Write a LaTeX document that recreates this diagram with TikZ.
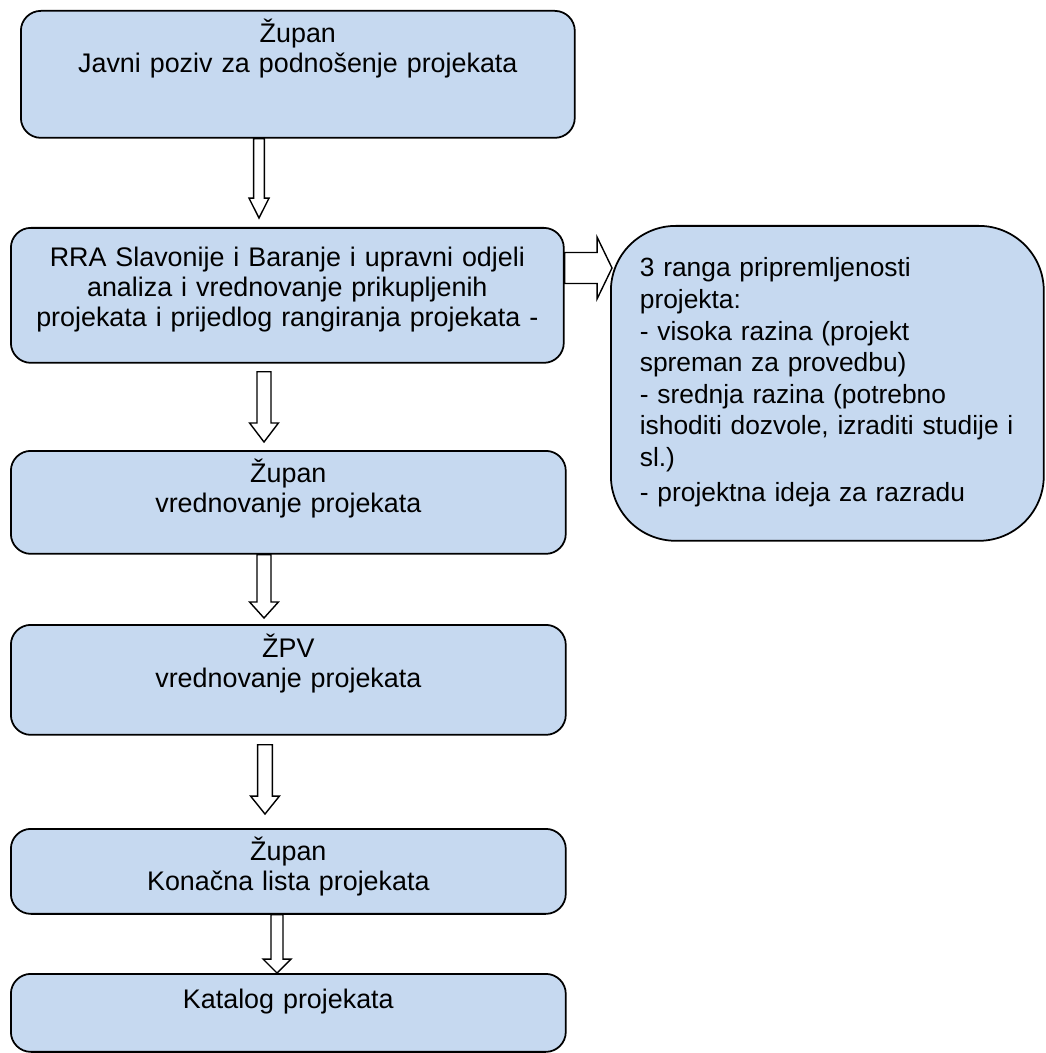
\documentclass[tikz,border=0pt]{standalone}
\usepackage{fontspec}
\setmainfont{Liberation Sans}
\usepackage{xcolor}
\usepackage{tikz}
\usetikzlibrary{calc}

\definecolor{boxfill}{RGB}{198,217,240}

% hollow block arrows: from, to, shaft, head, head length (pt)
\newcommand{\blkdown}[5]{%
  \draw[blk] let \p1=(#1), \p2=(#2) in
    (\x1-#3pt,\y1) -- (\x1-#3pt,\y2+#5pt) -- (\x1-#4pt,\y2+#5pt) -- (\x1,\y2)
    -- (\x1+#4pt,\y2+#5pt) -- (\x1+#3pt,\y2+#5pt) -- (\x1+#3pt,\y1) -- cycle;}
\newcommand{\blkright}[5]{%
  \draw[blk] let \p1=(#1), \p2=(#2) in
    (\x1,\y1+#3pt) -- (\x2-#5pt,\y1+#3pt) -- (\x2-#5pt,\y1+#4pt) -- (\x2,\y1)
    -- (\x2-#5pt,\y1-#4pt) -- (\x2-#5pt,\y1-#3pt) -- (\x1,\y1-#3pt) -- cycle;}

\begin{document}
\begin{tikzpicture}[
  x=0.02cm,y=-0.02cm,
  font=\fontsize{15.3pt}{17pt}\selectfont,
  box/.style={draw,line width=1pt,fill=boxfill,rounded corners=0.4cm,
    anchor=north west,inner sep=0pt,align=center},
  blk/.style={draw,fill=white,line width=0.8pt}
]
\useasboundingbox (0,0) rectangle (1045,1053);

\node[box,text width=11.08cm,text height=0.64cm,text depth=1.90cm] (b1) at (20,10)
  {Župan\\Javni poziv za podnošenje projekata};
\node[box,text width=11.06cm,text height=0.78cm,text depth=1.92cm] (b2) at (10,227)
  {RRA Slavonije i Baranje i upravni odjeli\\analiza i vrednovanje prikupljenih\\projekata i prijedlog rangiranja projekata -};
\node[box,text width=11.10cm,text height=0.64cm,text depth=1.42cm] (b3) at (10,450)
  {Župan\\vrednovanje projekata};
\node[box,text width=11.10cm,text height=0.66cm,text depth=1.54cm] (b4) at (10,624)
  {ŽPV\\vrednovanje projekata};
\node[box,text width=11.10cm,text height=0.64cm,text depth=1.06cm] (b5) at (10,828)
  {Župan\\Konačna lista projekata};
\node[box,text width=11.10cm,text height=0.70cm,text depth=0.86cm] (b6) at (10,973)
  {Katalog projekata};
\node[box,rounded corners=1.3cm,align=left,text width=7.5cm,minimum width=8.66cm,
  text height=1.02cm,text depth=5.28cm,font=\fontsize{15pt}{18pt}\selectfont] (side) at (610,225)
  {3 ranga pripremljenosti\\projekta:\\- visoka razina (projekt\\spreman za provedbu)\\- srednja razina (potrebno\\ishoditi dozvole, izraditi studije i\\sl.)\\[2pt]- projektna ideja za razradu};

\coordinate (a1s) at ($(b1.south west)+(239,0)$);
\coordinate (a1e) at ($(b2.north west)+(249,-9)$);
\coordinate (a2s) at ($(b2.south west)+(254,8)$);
\coordinate (a2e) at ($(b3.north west)+(254,-8)$);
\coordinate (a3s) at ($(b3.south west)+(254,0)$);
\coordinate (a3e) at ($(b4.north west)+(254,-6)$);
\coordinate (a4s) at ($(b4.south west)+(255,9)$);
\coordinate (a4e) at ($(b5.north west)+(255,-14)$);
\coordinate (a5s) at ($(b5.south west)+(267,0)$);
\coordinate (a5e) at ($(b6.north west)+(267,0)$);
\coordinate (ars) at ($(b2.north east)+(0,41)$);
\coordinate (are) at ($(side.north west)+(2,43)$);

\blkdown{a1s}{a1e}{3.1}{5.7}{11.3}
\blkdown{a2s}{a2e}{4.0}{8.2}{10.8}
\blkdown{a3s}{a3e}{4.0}{8.2}{9.1}
\blkdown{a4s}{a4e}{4.2}{8.2}{10.2}
\blkdown{a5s}{a5e}{3.4}{7.9}{7.9}
\blkright{ars}{are}{8.8}{17.6}{8.5}
\end{tikzpicture}
\end{document}
